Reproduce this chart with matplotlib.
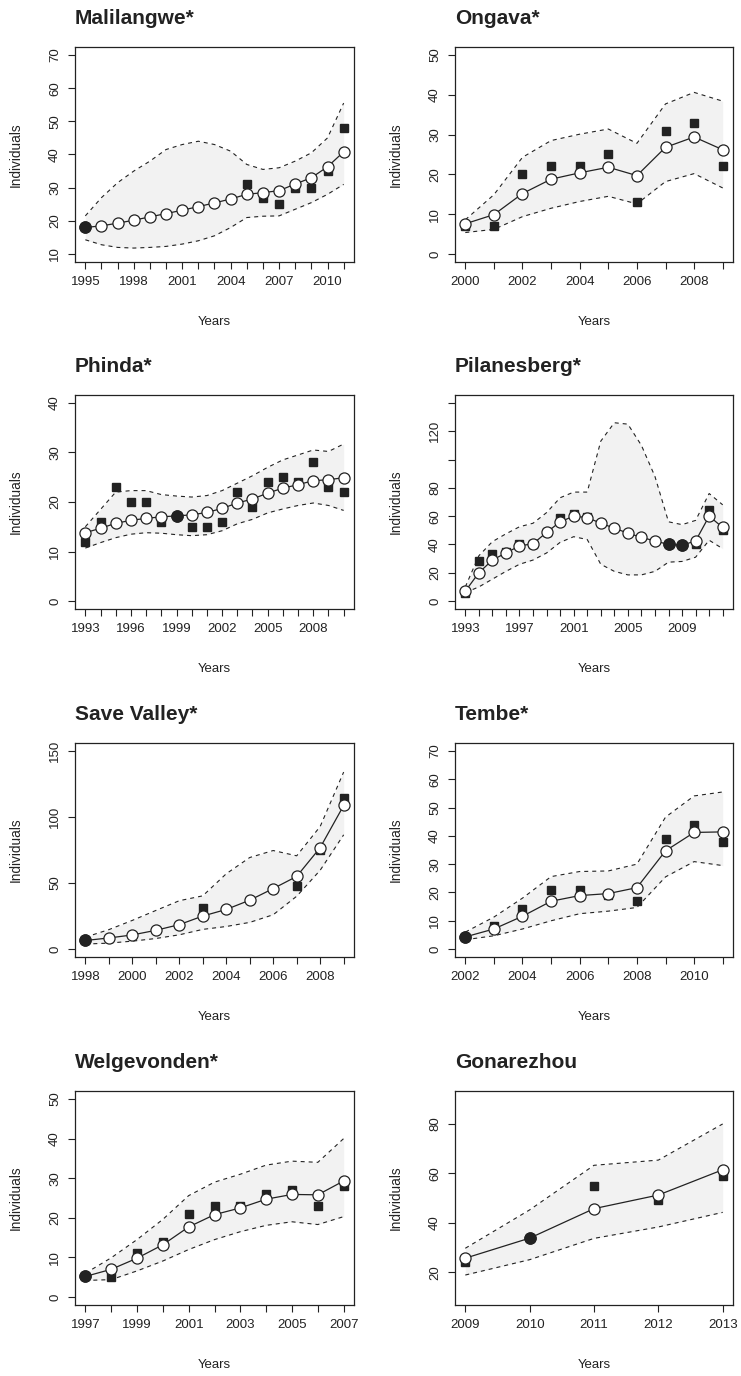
import numpy as np
import matplotlib
matplotlib.use("Agg")
import matplotlib.pyplot as plt

plt.rcParams['font.family'] = ['Liberation Sans', 'DejaVu Sans']

# ---- data ----
# Malilangwe*
mal_years = list(range(1995, 2012))
mal_model = [18.0, 18.5, 19.3, 20.2, 21.2, 22.2, 23.2, 24.3, 25.4, 26.6, 28.0, 28.5, 29.1, 31.1, 33.0, 36.3, 40.8]
mal_obs = [None] * 10 + [31, 27, 25, 30, 30, 35, 48]
mal_upper = [21.5, 27, 31.5, 35, 38, 41.5, 43, 44, 43, 41, 37, 35.5, 36, 38, 40.5, 45, 55.5]
mal_lower = [14.3, 12.8, 12.0, 11.8, 12.0, 12.3, 13.0, 14.0, 15.5, 18.0, 21.0, 21.4, 21.5, 23.5, 25.5, 28.0, 31.0]
mal_filled = [1995]

# Ongava*
ong_years = list(range(2000, 2010))
ong_model = [7.6, 9.9, 15.2, 18.8, 20.4, 21.8, 19.7, 26.8, 29.4, 26.2]
ong_obs = [7, 7, 20, 22, 22, 25, 13, 31, 33, 22]
ong_upper = [8.6, 14.9, 24.3, 28.5, 30.1, 31.4, 27.8, 37.7, 40.6, 38.4]
ong_lower = [5.4, 6.2, 9.4, 11.5, 13.2, 14.5, 12.6, 18.2, 20.2, 16.6]
ong_filled = []

# Phinda*
phi_years = list(range(1993, 2011))
phi_model = [13.8, 14.7, 15.7, 16.3, 16.7, 17.0, 17.2, 17.4, 17.9, 18.7, 19.8, 20.6, 21.8, 22.8, 23.5, 24.3, 24.5, 24.9]
phi_obs = [12, 16, 23, 20, 20, 16, None, 15, 15, 16, 22, 19, 24, 25, 24, 28, 23, 22]
phi_upper = [15.0, 18.5, 22.0, 22.3, 22.3, 21.5, 21.2, 21.0, 21.3, 22.3, 23.8, 25.3, 27.0, 28.5, 29.5, 30.5, 30.2, 31.7]
phi_lower = [10.7, 11.8, 12.8, 13.5, 13.8, 13.7, 13.4, 13.2, 13.4, 14.2, 15.6, 16.5, 17.8, 18.6, 19.3, 19.8, 19.3, 18.3]
phi_filled = [1999]

# Pilanesberg*
pil_years = list(range(1993, 2013))
pil_model = [7, 20, 29, 34, 39, 40.5, 48.5, 56, 60, 59, 55, 51.5, 48, 45, 42.5, 40, 39.5, 42.5, 60, 52]
pil_obs = [6, 28.5, 33, 35, 40, 40.5, 49, 58.5, 61.5, 59.5, None, None, None, None, None, None, None, 40, 64.5, 50]
pil_upper = [10, 32, 42, 47.5, 52.5, 55, 62.5, 73, 77, 77, 113, 126, 125, 110, 88, 56, 54, 57, 76, 68]
pil_lower = [6, 10, 15.5, 21, 26, 29, 34, 41.5, 45.5, 43.5, 26, 21, 18.5, 18.5, 21, 27.5, 28, 31, 43, 37]
pil_filled = [2008, 2009]

# Save Valley*
sav_years = list(range(1998, 2010))
sav_model = [6.5, 8.4, 10.7, 14.2, 18.5, 25.0, 30.0, 37.0, 45.8, 55.0, 76.8, 108.7]
sav_obs = [None, None, None, None, None, 31, None, None, None, 48, 75, 114]
sav_upper = [9, 14.7, 21.7, 29.2, 36.6, 40.3, 57, 69.3, 74.6, 70.6, 92.8, 134]
sav_lower = [3.8, 4.5, 6.0, 8.0, 10.8, 14.9, 17.1, 20.2, 26.0, 40.0, 59.7, 86.5]
sav_filled = [1998]

# Tembe*
tem_years = list(range(2002, 2012))
tem_model = [4.3, 7.1, 11.6, 16.9, 18.9, 19.6, 21.7, 34.7, 41.2, 41.4]
tem_obs = [None, 8, 14, 21, 21, 19, 17, 39, 44, 38]
tem_upper = [6.0, 11.3, 18.0, 25.6, 27.4, 27.6, 30.0, 46.6, 54.1, 55.5]
tem_lower = [3.3, 4.7, 7.1, 10.0, 12.5, 13.4, 14.7, 25.5, 30.9, 29.5]
tem_filled = [2002]

# Welgevonden*
wel_years = list(range(1997, 2008))
wel_model = [5.2, 7.0, 9.8, 13.2, 17.7, 20.8, 22.5, 24.7, 25.9, 25.8, 29.3]
wel_obs = [None, 5, 11, 14, 21, 23, 23, 26, 27, 23, 28]
wel_upper = [6.0, 9.9, 14.5, 19.6, 25.6, 29.0, 31.0, 33.3, 34.3, 34.0, 40.0]
wel_lower = [4.2, 4.4, 6.6, 9.1, 12.0, 14.5, 16.5, 18.1, 19.0, 18.3, 20.3]
wel_filled = [1997]

# Gonarezhou
gon_years = list(range(2009, 2014))
gon_model = [25.7, 33.8, 45.7, 51.2, 61.4]
gon_obs = [24, None, 55, 49, 59]
gon_upper = [29.7, 45.2, 63.2, 65.3, 79.9]
gon_lower = [18.9, 25.1, 33.7, 38.3, 44.2]
gon_filled = [2010]

panels = [
    ("Malilangwe*", mal_years, mal_model, mal_obs, mal_upper, mal_lower, mal_filled),
    ("Ongava*", ong_years, ong_model, ong_obs, ong_upper, ong_lower, ong_filled),
    ("Phinda*", phi_years, phi_model, phi_obs, phi_upper, phi_lower, phi_filled),
    ("Pilanesberg*", pil_years, pil_model, pil_obs, pil_upper, pil_lower, pil_filled),
    ("Save Valley*", sav_years, sav_model, sav_obs, sav_upper, sav_lower, sav_filled),
    ("Tembe*", tem_years, tem_model, tem_obs, tem_upper, tem_lower, tem_filled),
    ("Welgevonden*", wel_years, wel_model, wel_obs, wel_upper, wel_lower, wel_filled),
    ("Gonarezhou", gon_years, gon_model, gon_obs, gon_upper, gon_lower, gon_filled),
]

# y range, y tick step, hidden y labels, x label step
axis_opts = [
    ((10, 70), 10, [], 3),
    ((0, 50), 10, [], 2),
    ((0, 40), 10, [], 3),
    ((0, 140), 20, [100, 140], 4),
    ((0, 150), 50, [], 2),
    ((0, 70), 10, [], 2),
    ((0, 50), 10, [], 2),
    ((10, 90), 20, [], 1),
]

W, H = 741, 1376
INK = '#222222'
fig = plt.figure(figsize=(W / 100, H / 100), dpi=100)

col_lr = [(75, 354), (455, 733)]
row_tb = [(47, 262), (395, 609), (743, 957), (1091, 1305)]

for i, (title, years, model, obs, upper, lower, filled) in enumerate(panels):
    (ylo, yhi), ystep, hidden, xstep = axis_opts[i]
    left, right = col_lr[i % 2]
    top, bottom = row_tb[i // 2]
    ax = fig.add_axes([left / W, 1 - bottom / H, (right - left) / W, (bottom - top) / H])

    x = np.array(years, dtype=float)
    m = np.array(model, dtype=float)
    o = np.array([np.nan if v is None else v for v in obs], dtype=float)
    up = np.array(upper, dtype=float)
    lo = np.array(lower, dtype=float)

    ax.fill_between(x, lo, up, color='#f2f2f2', lw=0, zorder=1)
    ax.plot(x, up, color=INK, lw=0.8, dashes=(3.6, 3.6), zorder=2)
    ax.plot(x, lo, color=INK, lw=0.8, dashes=(3.6, 3.6), zorder=2)
    ax.plot(x, m, color=INK, lw=0.9, zorder=3)
    ax.plot(x, o, ls='none', marker='s', ms=5.4, color=INK, zorder=4)
    ax.plot(x, m, ls='none', marker='o', ms=8, mfc='white', mec=INK, mew=0.9, zorder=5)
    fm = [model[years.index(yr)] for yr in filled]
    ax.plot(filled, fm, ls='none', marker='o', ms=8, mfc=INK, mec=INK, zorder=6)

    # R style 4% padding
    xr = x[-1] - x[0]
    ax.set_xlim(x[0] - 0.04 * xr, x[-1] + 0.04 * xr)
    yr_ = yhi - ylo
    ax.set_ylim(ylo - 0.04 * yr_, yhi + 0.04 * yr_)

    ax.set_xticks(years)
    ax.set_xticklabels([str(yy) if (yy - years[0]) % xstep == 0 else '' for yy in years])
    yt = list(range(ylo if ylo % ystep == 0 else ylo + ystep - ylo % ystep, yhi + 1, ystep))
    ax.set_yticks(yt)
    ax.set_yticklabels(['' if v in hidden else str(v) for v in yt],
                       rotation=90, va='center')

    ax.tick_params(direction='out', length=5, width=0.8, color=INK,
                   labelsize=9.5, labelcolor=INK, pad=5)
    for s in ax.spines.values():
        s.set_color(INK)
        s.set_linewidth(0.9)

    ax.set_xlabel('Years', fontsize=9.5, color=INK)
    ax.set_ylabel('Individuals', fontsize=9.8, color=INK)
    ax.xaxis.set_label_coords(0.5, -54 / (bottom - top))
    ax.yaxis.set_label_coords(-52 / (right - left), 0.5)

    ax.text(0, 1 + 29 / (bottom - top), title, transform=ax.transAxes,
            fontsize=15, fontweight='bold', color=INK, ha='left', va='center')

fig.savefig('out.png', dpi=100)
